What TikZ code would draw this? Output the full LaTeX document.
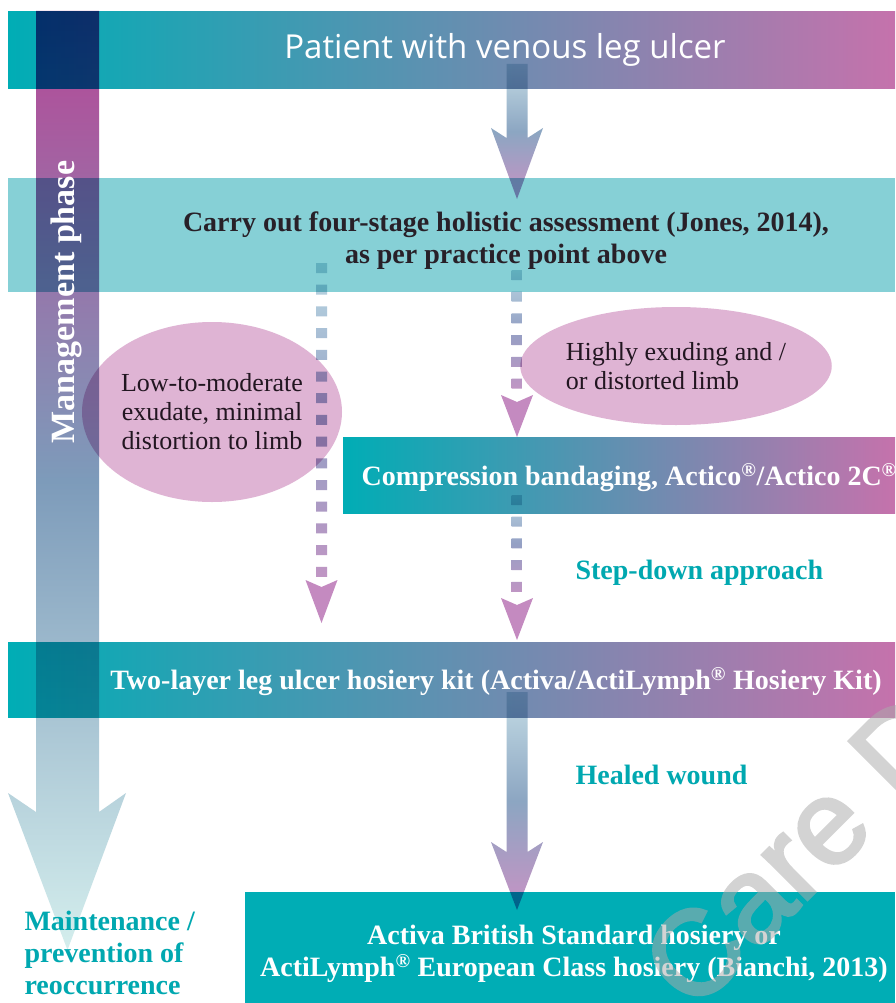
\documentclass[tikz,border=0pt]{standalone}
\usepackage{fontspec}
\setmainfont{Liberation Serif}
\newfontfamily\titlefont{Open Sans}
\newfontfamily\markfont[FakeBold=2.5]{Liberation Sans}
\usetikzlibrary{calc}
\usetikzlibrary{positioning}
\usetikzlibrary{shapes.geometric}

\definecolor{bandteal}{RGB}{0,173,181}
\definecolor{bandpink}{RGB}{197,114,172}
\definecolor{bandpale}{RGB}{134,208,214}
\definecolor{phasetop}{RGB}{182,70,150}
\definecolor{phasemid}{RGB}{125,155,186}
\definecolor{phaseend}{RGB}{212,238,237}
\definecolor{shaftlight}{RGB}{196,220,229}
\definecolor{shaftmid}{RGB}{140,166,194}
\definecolor{shaftpink}{RGB}{200,146,196}
\definecolor{dotlight}{RGB}{186,216,227}
\definecolor{dotmid}{RGB}{148,160,196}
\definecolor{dotpink}{RGB}{192,150,196}
\definecolor{headpink}{RGB}{196,138,192}
\definecolor{blobpink}{RGB}{223,180,212}
\definecolor{inkgrey}{RGB}{40,32,40}
\definecolor{labelteal}{RGB}{0,168,176}
\definecolor{markgrey}{RGB}{171,171,171}

\tikzstyle{band}=[rectangle, anchor=north west, inner sep=0, minimum height=76]
\tikzstyle{flow band}=[band, left color=bandteal, right color=bandpink]
\tikzstyle{band text}=[text=white, font=\bfseries\fontsize{28}{32}\selectfont, align=center]
\tikzstyle{blob}=[ellipse, fill=blobpink, text=inkgrey, font=\fontsize{26}{29}\selectfont, inner sep=0]
\tikzstyle{teal label}=[text=labelteal, font=\bfseries\fontsize{28}{32}\selectfont, align=left]
\tikzstyle{fat shaft}=[top color=shaftlight, bottom color=shaftpink, middle color=shaftmid]
\tikzstyle{dot column}=[top color=dotlight, bottom color=dotpink, middle color=dotmid]
\tikzstyle{dot head}=[fill=headpink]
\tikzstyle{watermark}=[text=markgrey, font=\markfont\fontsize{120}{120}\selectfont, inner sep=0]

\begin{document}
\begin{tikzpicture}[x=1pt, y=-1pt]
      \useasboundingbox (0,0) rectangle (895,1003);
      \fill[white] (0,0) rectangle (895,1003);

      \begin{scope}[blend mode=multiply]
        \node[flow band, minimum width=887, minimum height=77] (patient_band) at (8,11) {};
        \node[band, fill=bandpale, minimum width=887, minimum height=114] (assess_band) at (8,178) {};
        \node[flow band, minimum width=552] (bandage_band) at (343,437) {};
        \node[flow band, minimum width=887, minimum height=75] (hosiery_band) at (8,642) {};
        \node[band, fill=bandteal, minimum width=650, minimum height=115] (class_band) at (245,892) {};

        \node[blob, minimum width=260, minimum height=180, align=center] (low_blob) at (212,412)
          {Low-to-moderate\\exudate, minimal\\distortion to limb};
        \node[blob, minimum width=252, minimum height=118, align=left] (high_blob) at (676,366)
          {Highly exuding and /\\or distorted limb};

        \coordinate (phase_top) at (67.5,11);
        \coordinate (phase_tip) at (67.5,950);
        \shade[top color=phasetop, bottom color=phaseend, middle color=phasemid] ($(phase_top)+(-31.5,0)$)
          -- ($(phase_tip)+(-31.5,-138)$) -- ($(phase_tip)+(-59.5,-157)$)
          -- (phase_tip)
          -- ($(phase_tip)+(58.5,-157)$) -- ($(phase_tip)+(31.5,-138)$)
          -- ($(phase_top)+(31.5,0)$) -- cycle;

        \coordinate (patient_out) at (517,64);
        \coordinate (assess_in) at (517,199);
        \shade[fat shaft] ($(patient_out)+(-10.5,0)$)
          -- ($(assess_in)+(-10.5,-61)$) -- ($(assess_in)+(-26,-71)$)
          -- (assess_in)
          -- ($(assess_in)+(26,-71)$) -- ($(assess_in)+(10.5,-61)$)
          -- ($(patient_out)+(10.5,0)$) -- cycle;

        \coordinate (hosiery_out) at (517,692);
        \coordinate (class_in) at (517,910);
        \shade[fat shaft] ($(hosiery_out)+(-10.5,0)$)
          -- ($(class_in)+(-10.5,-58)$) -- ($(class_in)+(-26,-68)$)
          -- (class_in)
          -- ($(class_in)+(26,-68)$) -- ($(class_in)+(10.5,-58)$)
          -- ($(hosiery_out)+(10.5,0)$) -- cycle;

        \coordinate (low_dots) at (321.5,263);
        \coordinate (low_tip) at (321.5,623);
        \begin{scope}
          \clip \foreach \k in {0,...,14} {($(low_dots)+(-5.5,21.7*\k)$) rectangle ++(11,10)};
          \shade[dot column] ($(low_dots)+(-5.5,0)$) rectangle ($(low_dots)+(5.5,314)$);
        \end{scope}
        \fill[dot head] ($(low_tip)+(-16,-43)$) -- ($(low_tip)+(0,-36)$) -- ($(low_tip)+(16,-43)$) -- (low_tip) -- cycle;

        \coordinate (high_dots) at (517,270);
        \coordinate (high_tip) at (517,437);
        \begin{scope}
          \clip \foreach \k in {0,...,5} {($(high_dots)+(-5.5,21.7*\k)$) rectangle ++(11,10)};
          \shade[dot column] ($(high_dots)+(-5.5,0)$) rectangle ($(high_dots)+(5.5,119)$);
        \end{scope}
        \fill[dot head] ($(high_tip)+(-16,-42)$) -- ($(high_tip)+(0,-35)$) -- ($(high_tip)+(16,-42)$) -- (high_tip) -- cycle;

        \coordinate (step_dots) at (517,495);
        \coordinate (step_tip) at (517,640);
        \begin{scope}
          \clip \foreach \k in {0,...,4} {($(step_dots)+(-5.5,21.7*\k)$) rectangle ++(11,10)};
          \shade[dot column] ($(step_dots)+(-5.5,0)$) rectangle ($(step_dots)+(5.5,97)$);
        \end{scope}
        \fill[dot head] ($(step_tip)+(-16,-42)$) -- ($(step_tip)+(0,-35)$) -- ($(step_tip)+(16,-42)$) -- (step_tip) -- cycle;
      \end{scope}

      \node[text=white, font=\titlefont\fontsize{33}{36}\selectfont] (patient) at (505,50) {Patient with venous leg ulcer};
      \node[band text, text=inkgrey] (assess) at (506,241)
        {Carry out four-stage holistic assessment (Jones, 2014),\\as per practice point above};
      \node[band text, anchor=west] (bandage) at (358,478)
        {Compression bandaging, Actico\textsuperscript{®}/Actico 2C\textsuperscript{®}};
      \node[band text] (hosiery) at (496,682)
        {Two-layer leg ulcer hosiery kit (Activa/ActiLymph\textsuperscript{®} Hosiery Kit)};
      \node[band text] (class) at (574,954)
        {Activa British Standard hosiery or\\ActiLymph\textsuperscript{®} European Class hosiery (Bianchi, 2013)};
      \node[teal label, anchor=west] (step_down) at (572,573) {Step-down approach};
      \node[teal label, anchor=west] (healed) at (572,775) {Healed wound};
      \node[teal label, anchor=west] (maintenance) at (21,953) {Maintenance /\\prevention of\\reoccurrence};
      \node[band text, rotate=90, font=\bfseries\fontsize{34}{36}\selectfont] (phase) at (66,302) {Management phase};

      \begin{scope}[transparency group, opacity=0.52]
        \node[watermark, rotate=45, anchor=base west] (mark) at (693,1014) {Care D};
      \end{scope}
\end{tikzpicture}
\end{document}
